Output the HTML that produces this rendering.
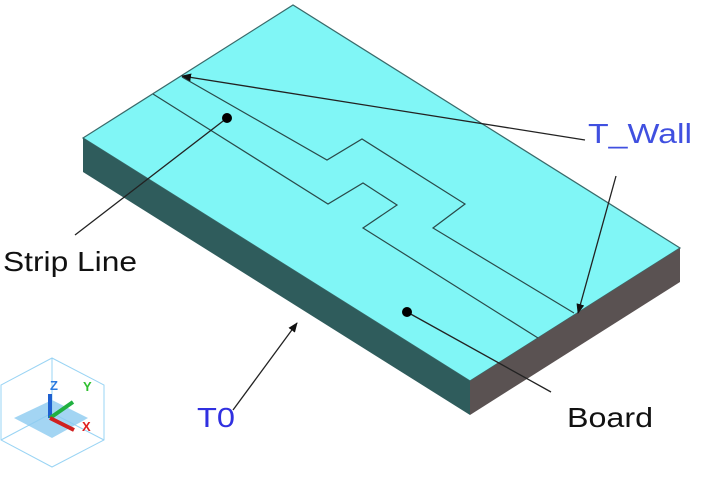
<!DOCTYPE html>
<html><head><style>body{margin:0;background:#fff}svg{display:block}</style></head><body>
<svg width="726" height="477" xmlns="http://www.w3.org/2000/svg" font-family="Liberation Sans, sans-serif">
<defs><marker id="a" markerWidth="10" markerHeight="8" refX="9" refY="4" orient="auto" markerUnits="userSpaceOnUse"><path d="M0,0 L10,4 L0,8z" fill="#111"/></marker></defs>
<polygon points="83,138 293,5 680,248 470,381" fill="#80f6f6" stroke="#3a6a6a" stroke-width="1.2"/>
<polygon points="83,138 470,381 470,415 83,172" fill="#2f5c5c"/>
<polygon points="470,381 680,248 680,282 470,415" fill="#5a5252"/>
<polyline points="182,77 327,160 362,139 465,204 433,228 574,313" fill="none" stroke="#2a4a4a" stroke-width="1.2"/>
<polyline points="153,94 328,204 363,183 397,205 363,228 538,338" fill="none" stroke="#2a4a4a" stroke-width="1.2"/>
<line x1="585" y1="140" x2="182" y2="76" stroke="#222" stroke-width="1.3" marker-end="url(#a)"/>
<line x1="616" y1="176" x2="578" y2="313" stroke="#222" stroke-width="1.3" marker-end="url(#a)"/>
<line x1="75" y1="235" x2="227" y2="118" stroke="#222" stroke-width="1.3"/>
<circle cx="227" cy="118" r="5" fill="#000"/>
<line x1="233" y1="410" x2="297" y2="323" stroke="#222" stroke-width="1.3" marker-end="url(#a)"/>
<line x1="407" y1="312" x2="551" y2="392" stroke="#222" stroke-width="1.3"/>
<circle cx="407" cy="312" r="5" fill="#000"/>
<text x="588" y="143" font-size="28" fill="#4050e0" textLength="104" lengthAdjust="spacingAndGlyphs">T_Wall</text>
<text x="3" y="271" font-size="28" fill="#111" textLength="134" lengthAdjust="spacingAndGlyphs">Strip Line</text>
<text x="197" y="427" font-size="28" fill="#3030e0" textLength="38" lengthAdjust="spacingAndGlyphs">T0</text>
<text x="567" y="427" font-size="28" fill="#111" textLength="86" lengthAdjust="spacingAndGlyphs">Board</text>
<g stroke="#9ad4f4" fill="none" stroke-width="1">
<polygon points="52,358 104,385 104,440 52,467 1,440 1,385"/>
<line x1="52" y1="358" x2="52" y2="413"/><line x1="52" y1="413" x2="1" y2="440"/><line x1="52" y1="413" x2="104" y2="440"/>
</g>
<polygon points="14,418 52,400 88,418 52,438" fill="#8ccaf0" opacity="0.8"/>
<line x1="50" y1="418" x2="50" y2="394" stroke="#1e60d0" stroke-width="4"/>
<line x1="50" y1="418" x2="73" y2="402" stroke="#20b040" stroke-width="4"/>
<line x1="50" y1="418" x2="74" y2="430" stroke="#d02020" stroke-width="4"/>
<text x="50" y="390" font-size="13" fill="#2a7ae0" font-weight="bold">Z</text>
<text x="83" y="391" font-size="13" fill="#30c030" font-weight="bold">Y</text>
<text x="82" y="431" font-size="13" fill="#e02020" font-weight="bold">X</text>
</svg>
</body></html>
